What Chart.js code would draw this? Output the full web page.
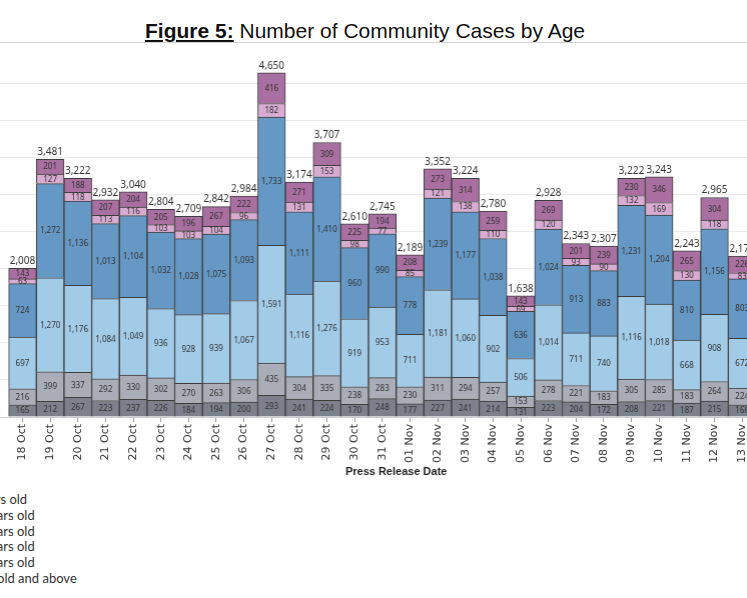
<!DOCTYPE html>
<html>
<head>
<meta charset="utf-8">
<script src="https://cdn.jsdelivr.net/npm/chart.js@4.4.1/dist/chart.umd.min.js"></script>
<style>
  html, body { margin: 0; padding: 0; background: #fff; overflow: hidden; }
  body { width: 747px; height: 598px; position: relative; }
  #title {
    position: absolute; left: 145px; top: 19px; white-space: nowrap;
    font-family: "Liberation Sans", Arial, sans-serif; font-size: 21px; line-height: 24px; color: #111;
  }
  #title .fig { font-weight: bold; text-decoration: underline; }
  #rule { position: absolute; left: 0; top: 42px; width: 747px; height: 1px; background: #d4d4d4; }
  #wrap { position: absolute; top: 0; }
  #legend {
    position: absolute; top: 492px; white-space: nowrap;
    font-family: Lato, "Open Sans", sans-serif; font-size: 13px; line-height: 15.8px; color: #333;
  }
</style>
</head>
<body>
<div id="title"><span class="fig">Figure 5:</span> Number of Community Cases by Age</div>
<div id="wrap"><canvas id="ageChart"></canvas></div>
<div id="rule"></div>
<div id="legend"></div>

<script>
// categories (first and last two are off the visible area / empty)
const dates = ['17 Oct', '18 Oct', '19 Oct', '20 Oct', '21 Oct', '22 Oct', '23 Oct', '24 Oct', '25 Oct', '26 Oct',
  '27 Oct', '28 Oct', '29 Oct', '30 Oct', '31 Oct', '01 Nov', '02 Nov', '03 Nov', '04 Nov', '05 Nov',
  '06 Nov', '07 Nov', '08 Nov', '09 Nov', '10 Nov', '11 Nov', '12 Nov', '13 Nov', '14 Nov', '15 Nov'];

const seriesNames = ['0-11 years old', '12-19 years old', '20-39 years old', '40-59 years old', '60-69 years old', '70 years old and above'];

// values, bottom of the stack first
const age0to11 = [null, 165, 212, 267, 223, 237, 226, 184, 194, 200, 293, 241, 224, 170, 248, 177, 227, 241, 214, 131, 223, 204, 172, 208, 221, 187, 215, 166, null, null];
const age12to19 = [null, 216, 399, 337, 292, 330, 302, 270, 263, 306, 435, 304, 335, 238, 283, 230, 311, 294, 257, 153, 278, 221, 183, 305, 285, 183, 264, 224, null, null];
const age20to39 = [null, 697, 1270, 1176, 1084, 1049, 936, 928, 939, 1067, 1591, 1116, 1276, 919, 953, 711, 1181, 1060, 902, 506, 1014, 711, 740, 1116, 1018, 668, 908, 672, null, null];
const age40to59 = [null, 724, 1272, 1136, 1013, 1104, 1032, 1028, 1075, 1093, 1733, 1111, 1410, 960, 990, 778, 1239, 1177, 1038, 636, 1024, 913, 883, 1231, 1204, 810, 1156, 803, null, null];
const age60to69 = [null, 63, 127, 118, 113, 116, 103, 103, 104, 96, 182, 131, 153, 98, 77, 85, 121, 138, 110, 69, 120, 93, 90, 132, 169, 130, 118, 83, null, null];
const age70plus = [null, 143, 201, 188, 207, 204, 205, 196, 267, 222, 416, 271, 309, 225, 194, 208, 273, 314, 259, 143, 269, 201, 239, 230, 346, 265, 304, 226, null, null];

const yTickStep = 500;
const yMax = 5000;

const colors = ['#7b808d', '#a9adb8', '#a2cbe8', '#6698c5', '#d8abd0', '#a96fa1'];
const allSeries = [age0to11, age12to19, age20to39, age40to59, age60to69, age70plus];

const totals = dates.map((d, i) => {
  if (age0to11[i] == null) return null;
  return allSeries.reduce((sum, s) => sum + s[i], 0);
});

// visible geometry of the plot
const catWidth = 27.69;
const plotLeft = 23 - 1.5 * catWidth;
const plotTop = 46.8;
const plotBottom = 417;
const xAxisHeight = 66;

const wrap = document.getElementById('wrap');
wrap.style.left = plotLeft + 'px';
wrap.style.width = (catWidth * dates.length) + 'px';
wrap.style.height = (plotBottom + xAxisHeight) + 'px';

const fmt = v => v.toLocaleString('en-US');

const barLabels = {
  id: 'barLabels',
  afterDatasetsDraw(chart) {
    const ctx = chart.ctx;
    ctx.save();
    ctx.textAlign = 'center';
    ctx.textBaseline = 'middle';
    ctx.fillStyle = '#333';
    ctx.font = '8px "Noto Sans"';
    chart.data.datasets.forEach((ds, i) => {
      chart.getDatasetMeta(i).data.forEach((bar, j) => {
        const v = ds.data[j];
        if (v == null) return;
        ctx.fillText(fmt(v), bar.x, (bar.y + bar.base) / 2 + 0.5);
      });
    });
    // totals on top
    const top = chart.getDatasetMeta(chart.data.datasets.length - 1);
    ctx.font = '10px "Noto Sans"';
    ctx.textBaseline = 'bottom';
    totals.forEach((t, j) => {
      if (t == null) return;
      const bar = top.data[j];
      ctx.fillText(fmt(t), bar.x, bar.y - 2);
    });
    ctx.restore();
  }
};

new Chart(document.getElementById('ageChart'), {
  type: 'bar',
  data: {
    labels: dates,
    datasets: allSeries.map((s, i) => ({
      label: seriesNames[i],
      data: s,
      backgroundColor: colors[i],
      borderColor: '#3d3d3d',
      borderWidth: 1,
      barPercentage: 1,
      categoryPercentage: 1
    }))
  },
  options: {
    responsive: true,
    maintainAspectRatio: false,
    animation: false,
    layout: { padding: { top: plotTop, left: 0, right: 0, bottom: 0 } },
    plugins: { legend: { display: false }, tooltip: { enabled: false } },
    scales: {
      x: {
        stacked: true,
        grid: { offset: false, drawOnChartArea: false, tickLength: 5, color: '#999' },
        border: { color: '#cfcfcf' },
        ticks: {
          minRotation: 90, maxRotation: 90, autoSkip: false, padding: 2,
          color: '#333', font: { family: 'DejaVu Sans', size: 11 }
        },
        title: {
          display: true, text: 'Press Release Date', color: '#222',
          font: { family: 'Liberation Sans', size: 11, weight: 'bold' },
          padding: { top: 4, bottom: 4 }
        },
        afterFit: s => { s.height = xAxisHeight; }
      },
      y: {
        stacked: true,
        min: 0,
        max: yMax,
        ticks: { display: false, stepSize: yTickStep },
        grid: {
          drawTicks: false,
          color: c => (c.tick && c.tick.value >= yMax) ? 'rgba(0,0,0,0)' : '#ebebeb'
        },
        border: { display: false },
        afterFit: s => { s.width = 0; }
      }
    }
  },
  plugins: [barLabels]
});

// legend (cut off at the left edge, like the reference)
const legend = document.getElementById('legend');
seriesNames.forEach(n => {
  const row = document.createElement('div');
  row.textContent = n;
  legend.appendChild(row);
});
const mctx = document.createElement('canvas').getContext('2d');
mctx.font = '13px Lato';
legend.style.left = (35 - mctx.measureText(seriesNames[1]).width) + 'px';
</script>
</body>
</html>
